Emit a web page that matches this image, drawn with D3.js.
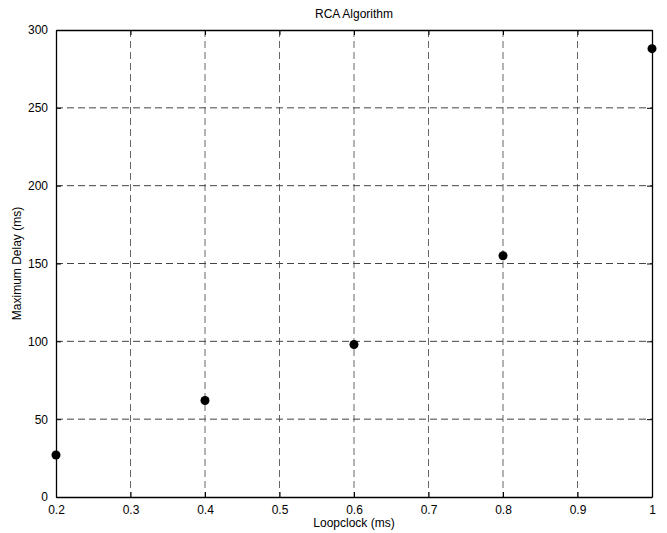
<!DOCTYPE html>
<html>
<head>
<meta charset="utf-8">
<script src="https://cdn.jsdelivr.net/npm/d3@7"></script>
<style>
  body { margin: 0; background: #fff; }
  text { font-family: "Liberation Sans", Arial, sans-serif; }
</style>
</head>
<body>
<script>
// values
var loopclock = [0.2, 0.4, 0.6, 0.8, 1.0];
var maxDelay = [27, 62, 98, 155, 288];
var xTicks = [0.2, 0.3, 0.4, 0.5, 0.6, 0.7, 0.8, 0.9, 1];
var yTicks = [0, 50, 100, 150, 200, 250, 300];

var margin = {top: 30, right: 15, bottom: 36, left: 56};
var width = 667 - margin.left - margin.right;
var height = 533 - margin.top - margin.bottom;

var svg = d3.select("body")
    .append("svg")
        .attr("width", 667)
        .attr("height", 533);

var g = svg.append("g")
    .attr("transform", "translate(" + margin.left + ", " + margin.top + ")");

var x = d3.scaleLinear().domain([0.2, 1]).range([0, width]);
var y = d3.scaleLinear().domain([0, 300]).range([height, 0]);

// grid
g.selectAll(".vgrid").data(xTicks.slice(1, -1))
    .enter().append("line")
        .attr("x1", (d) => x(d)).attr("x2", (d) => x(d))
        .attr("y1", 0).attr("y2", height)
        .attr("stroke", "#666")
        .attr("stroke-dasharray", "7,4");
g.selectAll(".hgrid").data(yTicks.slice(1, -1))
    .enter().append("line")
        .attr("x1", 0).attr("x2", width)
        .attr("y1", (d) => y(d)).attr("y2", (d) => y(d))
        .attr("stroke", "#444")
        .attr("stroke-dasharray", "7,4");

// axes
var fmtX = (d) => d === 1 ? "1" : d3.format(".1f")(d);
g.append("g")
    .attr("transform", "translate(0, " + height + ")")
    .call(d3.axisBottom(x).tickValues(xTicks).tickFormat(fmtX).tickSizeInner(-5).tickSizeOuter(0).tickPadding(8));
g.append("g")
    .call(d3.axisTop(x).tickValues(xTicks).tickFormat("").tickSizeInner(-5).tickSizeOuter(0));
g.append("g")
    .call(d3.axisLeft(y).tickValues(yTicks).tickSizeInner(-5).tickSizeOuter(0).tickPadding(8));
g.append("g")
    .attr("transform", "translate(" + width + ", 0)")
    .call(d3.axisRight(y).tickValues(yTicks).tickFormat("").tickSizeInner(-5).tickSizeOuter(0));

g.selectAll(".domain").attr("stroke", "#000").attr("stroke-width", 1.3);
g.selectAll(".tick text").attr("font-size", "12px").attr("fill", "#000")
    .attr("font-family", "'Liberation Sans', Arial, sans-serif");

// points
g.selectAll("circle").data(loopclock)
    .enter().append("circle")
        .attr("cx", (d) => x(d))
        .attr("cy", (d, i) => y(maxDelay[i]))
        .attr("r", 4.5)
        .attr("fill", "#000");

// labels
svg.append("text")
    .attr("x", margin.left + width / 2)
    .attr("y", 18)
    .attr("text-anchor", "middle")
    .attr("font-size", "12px")
    .text("RCA Algorithm");

svg.append("text")
    .attr("x", margin.left + width / 2)
    .attr("y", 527)
    .attr("text-anchor", "middle")
    .attr("font-size", "12px")
    .text("Loopclock (ms)");

svg.append("text")
    .attr("transform", "translate(21, " + (margin.top + height / 2) + ") rotate(-90)")
    .attr("text-anchor", "middle")
    .attr("font-size", "12px")
    .text("Maximum Delay (ms)");
</script>
</body>
</html>
